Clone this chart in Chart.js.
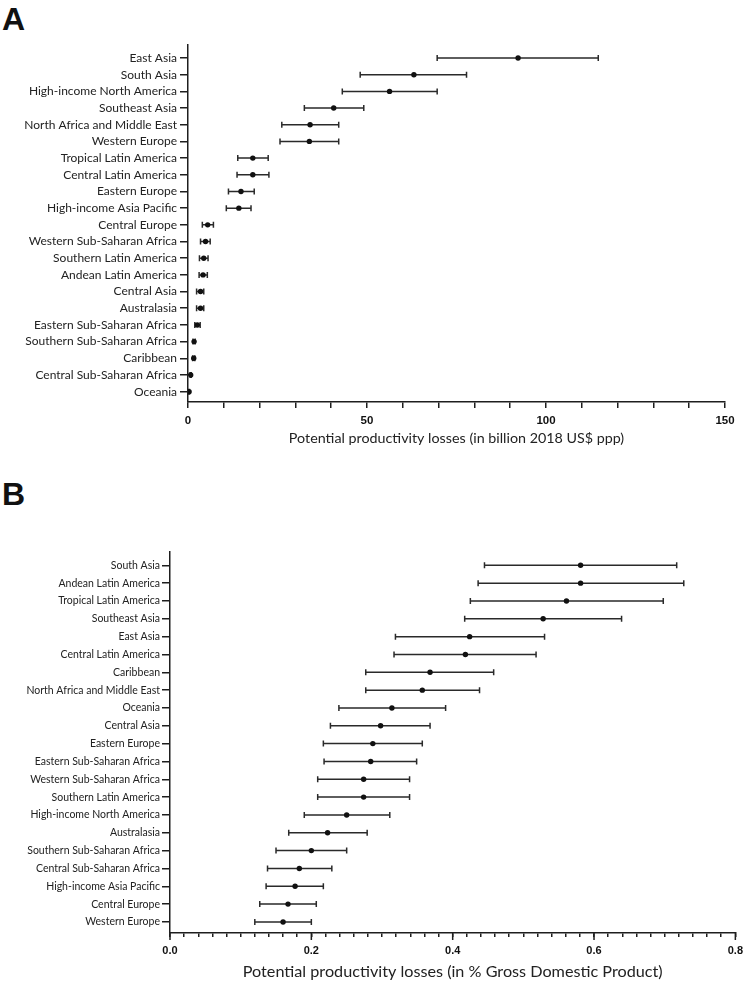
<!DOCTYPE html>
<html>
<head>
<meta charset="utf-8">
<script src="https://cdn.jsdelivr.net/npm/chart.js@4.4.1/dist/chart.umd.min.js"></script>
<style>
  html, body { margin: 0; padding: 0; background: #fff; }
  body { width: 750px; height: 981px; position: relative; overflow: hidden; }
  .panel { position: absolute; left: 0; }
  .letter { position: absolute; left: 2px; font-family: "Liberation Sans", Arial, sans-serif; font-weight: bold; font-size: 32px; line-height: 1; color: #111; }
</style>
</head>
<body>
<div class="letter" style="top:3px">A</div>
<div class="letter" style="top:478px">B</div>
<canvas id="chartA" class="panel" style="top:0px" width="750" height="450"></canvas>
<canvas id="chartB" class="panel" style="top:460px" width="750" height="521"></canvas>
<script>
// ---------- Panel A data (billion 2018 US$ ppp) ----------
const categoriesA = ["East Asia","South Asia","High-income North America","Southeast Asia","North Africa and Middle East","Western Europe","Tropical Latin America","Central Latin America","Eastern Europe","High-income Asia Pacific","Central Europe","Western Sub-Saharan Africa","Southern Latin America","Andean Latin America","Central Asia","Australasia","Eastern Sub-Saharan Africa","Southern Sub-Saharan Africa","Caribbean","Central Sub-Saharan Africa","Oceania"];
const meanA = [92.2, 63.1, 56.3, 40.7, 34.1, 33.9, 18.1, 18.1, 14.8, 14.2, 5.5, 4.9, 4.4, 4.2, 3.5, 3.5, 2.6, 1.7, 1.6, 0.75, 0.3];
const lowA  = [69.6, 48.1, 43.1, 32.5, 26.2, 25.7, 13.9, 13.7, 11.3, 10.7, 4.0, 3.5, 3.2, 3.1, 2.4, 2.4, 1.9, 1.4, 1.3, 0.6, 0.2];
const highA = [114.6, 77.8, 69.6, 49.1, 42.1, 42.1, 22.4, 22.6, 18.5, 17.6, 7.1, 6.2, 5.6, 5.4, 4.4, 4.4, 3.4, 2.0, 1.9, 0.9, 0.4];
const xLabelsA = [0, 50, 100, 150];
const xMinorStepA = 10;
const xTitleA = "Potential productivity losses (in billion 2018 US$ ppp)";

// ---------- Panel B data (% GDP) ----------
const categoriesB = ["South Asia","Andean Latin America","Tropical Latin America","Southeast Asia","East Asia","Central Latin America","Caribbean","North Africa and Middle East","Oceania","Central Asia","Eastern Europe","Eastern Sub-Saharan Africa","Western Sub-Saharan Africa","Southern Latin America","High-income North America","Australasia","Southern Sub-Saharan Africa","Central Sub-Saharan Africa","High-income Asia Pacific","Central Europe","Western Europe"];
const meanB = [0.581, 0.581, 0.561, 0.528, 0.424, 0.418, 0.368, 0.357, 0.314, 0.298, 0.287, 0.284, 0.274, 0.274, 0.250, 0.223, 0.200, 0.183, 0.177, 0.167, 0.160];
const lowB  = [0.445, 0.436, 0.425, 0.417, 0.319, 0.317, 0.277, 0.277, 0.239, 0.227, 0.217, 0.218, 0.209, 0.209, 0.190, 0.168, 0.150, 0.138, 0.136, 0.127, 0.120];
const highB = [0.717, 0.727, 0.698, 0.639, 0.530, 0.518, 0.458, 0.438, 0.390, 0.368, 0.357, 0.349, 0.339, 0.339, 0.311, 0.279, 0.250, 0.229, 0.217, 0.207, 0.200];
const xLabelsB = [0.0, 0.2, 0.4, 0.6, 0.8];
const xMinorStepB = 0.02;
const xTitleB = "Potential productivity losses (in % Gross Domestic Product)";

const INK = '#1e1e1e';

function errorBarPlugin(lows, highs, majorLabels, majorLen) {
  return {
    id: 'errbars',
    beforeDatasetsDraw(chart) {
      const xs = chart.scales.x, ys = chart.scales.y, ctx = chart.ctx;
      ctx.save();
      ctx.strokeStyle = '#2a2a2a';
      ctx.lineWidth = 1.5;
      for (let i = 0; i < lows.length; i++) {
        const x1 = xs.getPixelForValue(lows[i]);
        const x2 = xs.getPixelForValue(highs[i]);
        const y = ys.getPixelForValue(i);
        ctx.beginPath();
        ctx.moveTo(x1, y); ctx.lineTo(x2, y);
        ctx.moveTo(x1, y - 3); ctx.lineTo(x1, y + 3);
        ctx.moveTo(x2, y - 3); ctx.lineTo(x2, y + 3);
        ctx.stroke();
      }
      ctx.restore();
    },
    afterDraw(chart) {
      if (!majorLen) return;
      const xs = chart.scales.x, ctx = chart.ctx;
      ctx.save();
      ctx.strokeStyle = INK;
      ctx.lineWidth = 1.5;
      const y0 = chart.chartArea.bottom;
      majorLabels.forEach(v => {
        const x = xs.getPixelForValue(v);
        ctx.beginPath();
        ctx.moveTo(x, y0); ctx.lineTo(x, y0 + majorLen);
        ctx.stroke();
      });
      ctx.restore();
    }
  };
}

function makeChart(id, cfg) {
  const minorTicks = [];
  const steps = Math.round(cfg.xMax / cfg.minorStep);
  for (let k = 0; k <= steps; k++) minorTicks.push({ value: +(k * cfg.minorStep).toFixed(6) });
  return new Chart(document.getElementById(id), {
    type: 'scatter',
    data: {
      datasets: [{
        data: cfg.means.map((m, i) => ({ x: m, y: i })),
        pointRadius: cfg.pointRadius,
        pointBackgroundColor: '#111',
        pointBorderWidth: 0,
        showLine: false
      }]
    },
    plugins: [errorBarPlugin(cfg.lows, cfg.highs, cfg.xLabels, cfg.majorLen)],
    options: {
      responsive: false,
      animation: false,
      layout: { padding: { top: cfg.padTop, right: cfg.padRight, left: 0, bottom: 0 } },
      plugins: { legend: { display: false }, tooltip: { enabled: false } },
      scales: {
        y: {
          type: 'linear',
          reverse: true,
          min: cfg.yMin,
          max: cfg.yMax,
          afterBuildTicks: s => { s.ticks = cfg.categories.map((c, i) => ({ value: i })); },
          afterFit: s => { s.width = cfg.yWidth; },
          ticks: {
            autoSkip: false,
            callback: v => cfg.categories[v],
            font: { family: 'Lato', size: cfg.yFont },
            color: '#222',
            padding: cfg.yPad
          },
          grid: { drawOnChartArea: false, tickLength: 8, color: INK, lineWidth: 1.5 },
          border: { color: INK, width: 1.5 }
        },
        x: {
          type: 'linear',
          min: 0,
          max: cfg.xMax,
          afterBuildTicks: s => { s.ticks = minorTicks.slice(); },
          afterFit: s => { s.height = cfg.xHeight; },
          ticks: {
            autoSkip: false,
            maxRotation: 0,
            callback: v => {
              const hit = cfg.xLabels.find(l => Math.abs(l - v) < 1e-6);
              return hit === undefined ? '' : hit.toFixed(cfg.decimals);
            },
            font: { family: 'Liberation Sans', weight: 'bold', size: cfg.xFont },
            color: '#111',
            padding: cfg.xPad
          },
          grid: { drawOnChartArea: false, tickLength: cfg.xTickLen, color: INK, lineWidth: 1.5 },
          border: { color: INK, width: 1.5 },
          title: {
            display: true,
            text: cfg.title,
            font: { family: 'Lato', size: cfg.titleFont },
            color: '#222',
            padding: { top: 0, bottom: cfg.titlePadBottom }
          }
        }
      }
    }
  });
}

makeChart('chartA', {
  categories: categoriesA, means: meanA, lows: lowA, highs: highA,
  xMax: 150, minorStep: xMinorStepA, xLabels: xLabelsA, decimals: 0, title: xTitleA,
  padTop: 45, padRight: 25, yWidth: 188, xHeight: 48,
  yMin: -0.78, yMax: 20.62, yFont: 12, yPad: 3, xPad: 6, xFont: 11.5, xTickLen: 6, majorLen: 0,
  titleFont: 14.3, titlePadBottom: 3, pointRadius: 2.7
});

makeChart('chartB', {
  categories: categoriesB, means: meanB, lows: lowB, highs: highB,
  xMax: 0.8, minorStep: xMinorStepB, xLabels: xLabelsB, decimals: 1, title: xTitleB,
  padTop: 92, padRight: 10, yWidth: 170, xHeight: 48,
  yMin: -0.746, yMax: 20.62, yFont: 10.5, yPad: 2, xPad: 7, xFont: 11, xTickLen: 4, majorLen: 7,
  titleFont: 16.2, titlePadBottom: 0, pointRadius: 2.7
});
</script>
</body>
</html>
